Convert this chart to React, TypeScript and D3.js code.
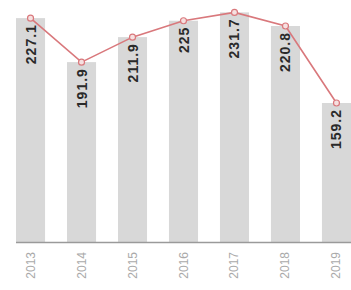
import { useMemo } from 'react';
import * as d3 from 'd3';

const years = ['2013', '2014', '2015', '2016', '2017', '2018', '2019'];
const values = [227.1, 191.9, 211.9, 225, 231.7, 220.8, 159.2];
const valueLabels = ['227.1', '191.9', '211.9', '225', '231.7', '220.8', '159.2'];

const width = 351;
const height = 290;
const baseY = 242;

export default function App(): JSX.Element {
  const x = useMemo(
    () => d3.scaleBand<string>().domain(years).range([16, 351]).paddingInner(0.43).paddingOuter(0),
    [],
  );
  const y = useMemo(() => d3.scaleLinear().domain([48, 232]).range([baseY, 12]), []);

  const pts = years.map((yr, i) => [x(yr)! + x.bandwidth() / 2, y(values[i])] as [number, number]);
  const linePath = d3.line()(pts) ?? '';

  return (
    <svg
      width={width}
      height={height}
      style={{ position: 'absolute', left: 0, top: 0, background: '#fff' }}
      fontFamily="'Liberation Sans', Arial, sans-serif"
    >
      {years.map((yr, i) => (
        <rect
          key={yr}
          x={x(yr)}
          y={y(values[i])}
          width={x.bandwidth()}
          height={baseY - y(values[i])}
          fill="#d8d8d8"
        />
      ))}
      <line x1={16} x2={351} y1={baseY + 0.5} y2={baseY + 0.5} stroke="#9a9a9a" strokeWidth={1.5} />
      <path d={linePath} fill="none" stroke="#d9787c" strokeWidth={1.6} />
      {pts.map(([cx, cy], i) => (
        <circle key={years[i]} cx={cx} cy={cy} r={3} fill="#f6e0e0" stroke="#d9787c" strokeWidth={1.2} />
      ))}
      {years.map((yr, i) => (
        <text
          key={yr}
          transform={`translate(${pts[i][0]},${pts[i][1] + 6}) rotate(-90)`}
          textAnchor="end"
          dominantBaseline="central"
          fontSize={14}
          fontWeight="bold"
          letterSpacing={1}
          fill="#2a2a2a"
        >
          {valueLabels[i]}
        </text>
      ))}
      {years.map((yr) => (
        <text
          key={yr}
          transform={`translate(${x(yr)! + x.bandwidth() / 2},${baseY + 10}) rotate(-90)`}
          textAnchor="end"
          dominantBaseline="central"
          fontSize={12}
          fill="#aaaaaa"
        >
          {yr}
        </text>
      ))}
    </svg>
  );
}
